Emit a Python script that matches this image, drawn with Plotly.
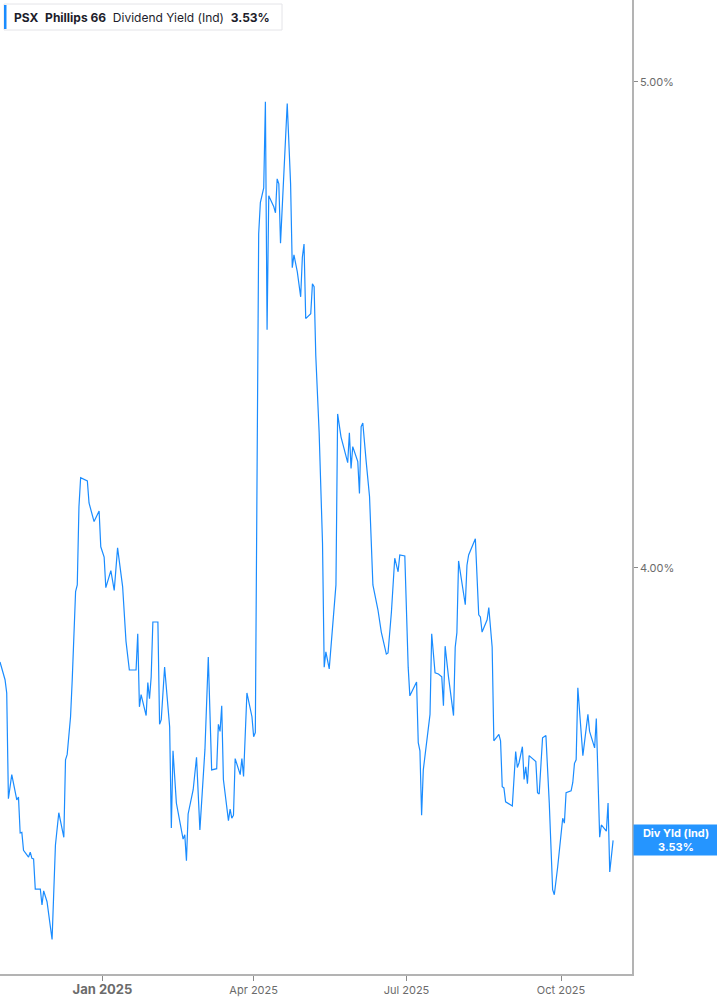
import numpy as np
import plotly.graph_objects as go

# PSX dividend yield (indicated), daily closes =============================
dates = [
    "2024-11-01", "2024-11-04", "2024-11-05", "2024-11-06", "2024-11-08",
    "2024-11-11", "2024-11-12", "2024-11-13", "2024-11-14", "2024-11-15",
    "2024-11-18", "2024-11-19", "2024-11-20", "2024-11-21", "2024-11-22",
    "2024-11-25", "2024-11-26", "2024-11-27", "2024-11-29", "2024-12-02",
    "2024-12-04", "2024-12-06", "2024-12-09", "2024-12-10", "2024-12-11",
    "2024-12-13", "2024-12-14", "2024-12-15", "2024-12-16", "2024-12-17",
    "2024-12-18", "2024-12-19", "2024-12-23", "2024-12-24", "2024-12-27",
    "2024-12-30", "2024-12-31", "2025-01-02", "2025-01-03", "2025-01-06",
    "2025-01-08", "2025-01-10", "2025-01-13", "2025-01-15", "2025-01-17",
    "2025-01-21", "2025-01-22", "2025-01-23", "2025-01-24", "2025-01-27",
    "2025-01-28", "2025-01-29", "2025-01-30", "2025-01-31", "2025-02-03",
    "2025-02-04", "2025-02-05", "2025-02-07", "2025-02-10", "2025-02-11",
    "2025-02-12", "2025-02-14", "2025-02-18", "2025-02-19", "2025-02-20",
    "2025-02-21", "2025-02-24", "2025-02-26", "2025-02-28", "2025-03-03",
    "2025-03-05", "2025-03-07", "2025-03-10", "2025-03-11", "2025-03-12",
    "2025-03-13", "2025-03-14", "2025-03-17", "2025-03-18", "2025-03-19",
    "2025-03-20", "2025-03-21", "2025-03-24", "2025-03-25", "2025-03-26",
    "2025-03-28", "2025-03-31", "2025-04-01", "2025-04-02", "2025-04-04",
    "2025-04-05", "2025-04-07", "2025-04-08", "2025-04-09", "2025-04-10",
    "2025-04-13", "2025-04-14", "2025-04-15", "2025-04-16", "2025-04-17",
    "2025-04-19", "2025-04-21", "2025-04-23", "2025-04-24", "2025-04-25",
    "2025-04-27", "2025-04-29", "2025-04-30", "2025-05-01", "2025-05-02",
    "2025-05-05", "2025-05-06", "2025-05-07", "2025-05-08", "2025-05-10",
    "2025-05-12", "2025-05-13", "2025-05-14", "2025-05-16", "2025-05-18",
    "2025-05-20", "2025-05-21", "2025-05-23", "2025-05-27", "2025-05-28",
    "2025-05-29", "2025-05-30", "2025-06-02", "2025-06-03", "2025-06-04",
    "2025-06-05", "2025-06-07", "2025-06-09", "2025-06-11", "2025-06-14",
    "2025-06-16", "2025-06-18", "2025-06-19", "2025-06-20", "2025-06-22",
    "2025-06-24", "2025-06-26", "2025-06-27", "2025-06-30", "2025-07-02",
    "2025-07-03", "2025-07-07", "2025-07-08", "2025-07-09", "2025-07-10",
    "2025-07-11", "2025-07-13", "2025-07-15", "2025-07-16", "2025-07-18",
    "2025-07-20", "2025-07-22", "2025-07-23", "2025-07-24", "2025-07-26",
    "2025-07-29", "2025-07-30", "2025-07-31", "2025-08-01", "2025-08-05",
    "2025-08-06", "2025-08-07", "2025-08-11", "2025-08-13", "2025-08-14",
    "2025-08-15", "2025-08-18", "2025-08-19", "2025-08-21", "2025-08-22",
    "2025-08-25", "2025-08-26", "2025-08-27", "2025-08-28", "2025-08-29",
    "2025-09-02", "2025-09-04", "2025-09-05", "2025-09-06", "2025-09-08",
    "2025-09-09", "2025-09-10", "2025-09-11", "2025-09-12", "2025-09-16",
    "2025-09-17", "2025-09-18", "2025-09-20", "2025-09-22", "2025-09-24",
    "2025-09-26", "2025-09-27", "2025-09-29", "2025-09-30", "2025-10-02",
    "2025-10-03", "2025-10-04", "2025-10-07", "2025-10-08", "2025-10-09",
    "2025-10-10", "2025-10-11", "2025-10-12", "2025-10-14", "2025-10-17",
    "2025-10-18", "2025-10-21", "2025-10-22", "2025-10-24", "2025-10-25",
    "2025-10-28", "2025-10-29", "2025-10-30", "2025-11-01",
]

yield_pct = [
    3.831, 3.800, 3.777, 3.598, 3.638, 3.596, 3.601, 3.542, 3.543, 3.514,
    3.503, 3.511, 3.501, 3.500, 3.452, 3.452, 3.427, 3.449, 3.432, 3.373,
    3.522, 3.575, 3.535, 3.663, 3.672, 3.736, 3.800, 3.893, 3.957, 3.969,
    4.114, 4.169, 4.163, 4.121, 4.086, 4.106, 4.039, 4.020, 3.964, 3.995,
    3.959, 4.037, 3.966, 3.868, 3.817, 3.817, 3.881, 3.753, 3.774, 3.738,
    3.795, 3.767, 3.805, 3.902, 3.902, 3.723, 3.731, 3.822, 3.719, 3.550,
    3.678, 3.591, 3.532, 3.539, 3.497, 3.573, 3.613, 3.667, 3.547, 3.680,
    3.840, 3.646, 3.648, 3.723, 3.711, 3.755, 3.630, 3.562, 3.581, 3.566,
    3.571, 3.665, 3.638, 3.665, 3.635, 3.777, 3.736, 3.702, 3.709, 4.663,
    4.730, 4.762, 4.954, 4.462, 4.745, 4.721, 4.708, 4.782, 4.771, 4.643,
    4.787, 4.950, 4.771, 4.591, 4.618, 4.582, 4.530, 4.613, 4.641, 4.485,
    4.495, 4.557, 4.551, 4.409, 4.256, 4.046, 3.822, 3.849, 3.819, 3.893,
    3.969, 4.293, 4.248, 4.198, 4.256, 4.187, 4.229, 4.200, 4.139, 4.268,
    4.275, 4.200, 4.133, 3.969, 3.924, 3.884, 3.861, 3.845, 3.847, 3.919,
    4.018, 3.993, 4.024, 4.022, 3.822, 3.772, 3.796, 3.692, 3.678, 3.571,
    3.646, 3.692, 3.740, 3.881, 3.812, 3.810, 3.805, 3.755, 3.859, 3.805,
    3.738, 3.857, 3.883, 4.013, 3.933, 4.005, 4.024, 4.054, 3.915, 3.911,
    3.884, 3.906, 3.928, 3.857, 3.695, 3.706, 3.695, 3.618, 3.616, 3.593,
    3.586, 3.677, 3.650, 3.658, 3.685, 3.630, 3.651, 3.623, 3.670, 3.660,
    3.608, 3.606, 3.700, 3.704, 3.591, 3.451, 3.443, 3.487, 3.514, 3.566,
    3.558, 3.608, 3.611, 3.625, 3.657, 3.663, 3.786, 3.743, 3.670, 3.740,
    3.711, 3.683, 3.733, 3.535, 3.555, 3.545, 3.591, 3.479, 3.530,
]

x_ticks = ["2025-01-01", "2025-04-01", "2025-07-01", "2025-10-01"]
x_tick_labels = ["Jan 2025", "Apr 2025", "Jul 2025", "Oct 2025"]
y_ticks = [4.0, 5.0]
y_tick_labels = ["4.00%", "5.00%"]
x_limits = ["2024-11-01", "2025-11-12 06:00"]
y_limits = [3.320, 5.191]

ticker = "PSX"
company = "Phillips 66"
metric = "Dividend Yield (Ind)"
tag = "Div Yld (Ind)"

# layout ====================================
W, H = 717, 1005
ML, MR, MT, MB = 0, 85, 0, 31
PW, PH = W - ML - MR, H - MT - MB

BLUE = "#1a8cff"
TAG_BLUE = "#2595ff"
AXIS = "#b3b3b3"
LABEL = "#6b6b6b"
INK = "#1d1d2b"


def px(x):
    return x / PW


def py(y):
    return 1 - y / PH


last = yield_pct[-1]

fig = go.Figure(go.Scatter(
    x=dates,
    y=yield_pct,
    mode="lines",
    line=dict(color=BLUE, width=1.2),
    hoverinfo="skip",
))

ticktext = [
    "<b><span style='font-size:13px'>" + t + "</span></b>" if t.startswith("Jan") else t
    for t in x_tick_labels
]

fig.update_layout(
    width=W,
    height=H,
    margin=dict(l=ML, r=MR, t=MT, b=MB),
    paper_bgcolor="white",
    plot_bgcolor="white",
    showlegend=False,
    font=dict(family="Inter, Roboto, sans-serif", color=LABEL, size=11),
    xaxis=dict(
        type="date",
        range=x_limits,
        tickvals=x_ticks,
        ticktext=ticktext,
        showgrid=False,
        zeroline=False,
        showline=True,
        linecolor=AXIS,
        linewidth=2,
        ticks="outside",
        ticklen=5,
        tickcolor="#8a8a8a",
        tickfont=dict(size=11, color=LABEL),
    ),
    yaxis=dict(
        type="log",
        range=[np.log10(y_limits[0]), np.log10(y_limits[1])],
        side="right",
        tickvals=y_ticks,
        ticktext=y_tick_labels,
        showgrid=False,
        zeroline=False,
        showline=True,
        linecolor=AXIS,
        linewidth=1.5,
        ticks="outside",
        ticklen=4,
        tickcolor="#8a8a8a",
        tickfont=dict(size=11, color=LABEL),
    ),
)

# header box, top-left
fig.add_shape(type="rect", xref="paper", yref="paper",
              x0=px(4), x1=px(282), y0=py(30), y1=py(4),
              line=dict(color="#e4e4e8", width=1), fillcolor="white", layer="above")
fig.add_shape(type="rect", xref="paper", yref="paper",
              x0=px(4), x1=px(6.5), y0=py(29), y1=py(5),
              line=dict(width=0), fillcolor=BLUE, layer="above")
sp = "&nbsp;&nbsp;"
fig.add_annotation(
    xref="paper", yref="paper", x=px(12), y=py(17),
    xanchor="left", yanchor="middle", showarrow=False,
    text=f"<b>{ticker}</b>{sp}<b>{company}</b>{sp}{metric}{sp}<b>{last:.2f}%</b>",
    font=dict(family="Inter, Roboto, sans-serif", size=12, color=INK),
)

# last value tag on the right axis
fig.add_annotation(
    xref="paper", yref="y", x=1, y=np.log10(last),
    xanchor="left", yanchor="middle", xshift=1, showarrow=False,
    text=f"<b>{tag}</b><br><b>{last:.2f}%</b>",
    font=dict(family="Inter, Roboto, sans-serif", size=11, color="white"),
    bgcolor=TAG_BLUE, width=80, height=26, borderpad=2, align="center",
)

fig.write_html("out.html", config={"displayModeBar": False},
               post_script="document.body.style.margin='0';")
